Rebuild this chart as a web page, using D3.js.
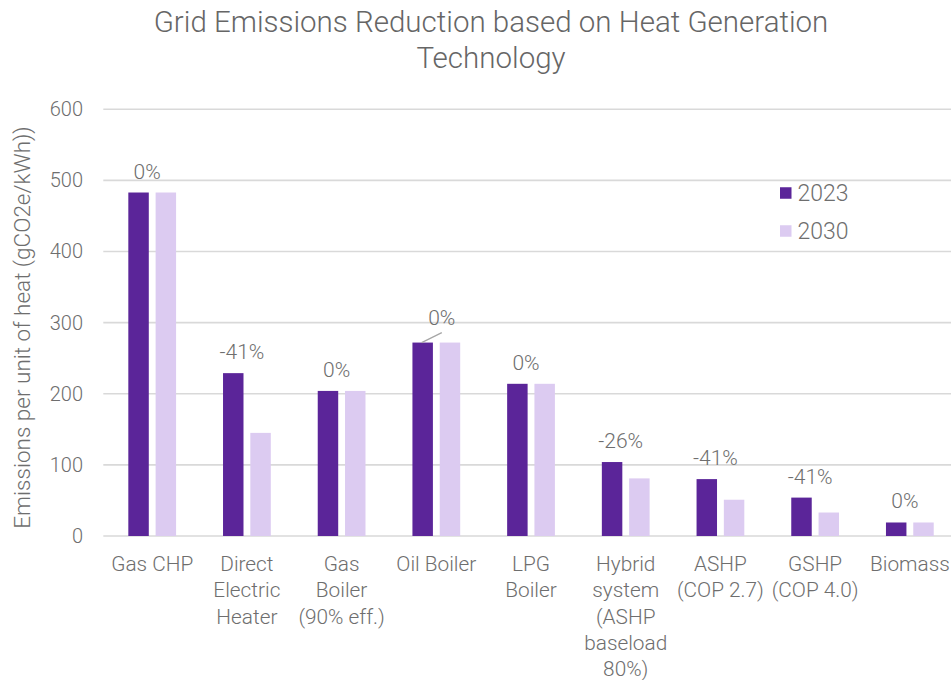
<!DOCTYPE html>
<html>
<head>
<meta charset="utf-8">
<script src="https://cdn.jsdelivr.net/npm/d3@7"></script>
<style>
  body { margin: 0; background: #fff; }
  text { font-family: Roboto, "Liberation Sans", Arial, sans-serif; font-weight: 300; }
</style>
</head>
<body>
<svg id="chart" width="951" height="680"></svg>
<script>
// Heat generation technologies and grid emissions per unit of heat (gCO2e/kWh)
const categories = [
  "Gas CHP", "Direct Electric Heater", "Gas Boiler (90% eff.)", "Oil Boiler", "LPG Boiler",
  "Hybrid system (ASHP baseload 80%)", "ASHP (COP 2.7)", "GSHP (COP 4.0)", "Biomass"
];
const categoryLines = [
  ["Gas CHP"], ["Direct", "Electric", "Heater"], ["Gas", "Boiler", "(90% eff.)"], ["Oil Boiler"],
  ["LPG", "Boiler"], ["Hybrid", "system", "(ASHP", "baseload", "80%)"], ["ASHP", "(COP 2.7)"],
  ["GSHP", "(COP 4.0)"], ["Biomass"]
];
const series = ["2023", "2030"];
const values2023 = [483, 229, 204, 272, 214, 104, 80, 54, 19];
const values2030 = [483, 145, 204, 272, 214, 81, 51, 33, 19];
const changeLabels = ["0%", "-41%", "0%", "0%", "0%", "-26%", "-41%", "-41%", "0%"];
const calloutCategories = ["Oil Boiler"];   // labels pulled up with a leader line
const yTicks = [0, 100, 200, 300, 400, 500, 600];
const chartTitle = ["Grid Emissions Reduction based on Heat Generation", "Technology"];
const yTitle = "Emissions per unit of heat (gCO2e/kWh))";

const colors = { "2023": "#5b2599", "2030": "#dccbf1" };
const textColor = "#6e6e6e";
const gridColor = "#d9d9d9";

const svg = d3.select("#chart");
const W = 951;

const y = d3.scaleLinear().domain([0, 600]).range([536, 109.3]);
const x0 = d3.scaleBand().domain(categories).range([104.85, 957.2]).padding(0);
const x1 = d3.scaleBand().domain(series).range([0, x0.bandwidth()])
  .paddingInner(0.25).paddingOuter(0.86);

const rows = categories.map((c, i) => ({
  category: c, lines: categoryLines[i], label: changeLabels[i],
  values: { "2023": values2023[i], "2030": values2030[i] }
}));

// Title
svg.append("g").selectAll("text").data(chartTitle).join("text")
  .attr("x", 491).attr("y", (d, i) => 32 + i * 36)
  .attr("text-anchor", "middle")
  .attr("font-size", 29.5).attr("fill", "#666")
  .text(d => d);

// Gridlines
svg.append("g").selectAll("line").data(yTicks).join("line")
  .attr("x1", 103.3).attr("x2", W)
  .attr("y1", d => y(d)).attr("y2", d => y(d))
  .attr("stroke", gridColor).attr("stroke-width", 1.6);

// Y axis tick labels
const yAxis = d3.axisLeft(y).tickValues(yTicks).tickSize(0).tickPadding(0);
const gy = svg.append("g").attr("transform", "translate(83,0)").call(yAxis);
gy.select(".domain").remove();
gy.selectAll("text")
  .attr("font-size", 20).attr("fill", textColor)
  .attr("font-family", null);

// Y axis title
svg.append("text")
  .attr("transform", "translate(30,327.5) rotate(-90)")
  .attr("text-anchor", "middle")
  .attr("font-size", 22.5).attr("fill", textColor)
  .text(yTitle);

// Bars
const groups = svg.append("g").selectAll("g").data(rows).join("g")
  .attr("transform", d => `translate(${x0(d.category)},0)`);

groups.selectAll("rect").data(d => series.map(s => ({ s, v: d.values[s] }))).join("rect")
  .attr("x", d => x1(d.s))
  .attr("width", x1.bandwidth())
  .attr("y", d => y(d.v))
  .attr("height", d => y(0) - y(d.v))
  .attr("fill", d => colors[d.s]);

// Change labels above each pair
const center = d => x0(d.category) + x0.bandwidth() / 2;
const topOf = d => y(Math.max(d.values["2023"], d.values["2030"]));

const labels = svg.append("g");
rows.forEach(d => {
  const callout = calloutCategories.includes(d.category);
  const lx = callout ? center(d) + 5.5 : center(d) - 5;
  const ly = callout ? topOf(d) - 18 : topOf(d) - 14;
  labels.append("text")
    .attr("x", lx).attr("y", ly)
    .attr("text-anchor", "middle")
    .attr("font-size", 21).attr("fill", textColor)
    .text(d.label);
  if (callout) {
    const bx = x0(d.category) + x1("2023") + x1.bandwidth() * 0.45;
    labels.append("line")
      .attr("x1", bx).attr("y1", y(d.values["2023"]))
      .attr("x2", lx).attr("y2", ly + 8)
      .attr("stroke", "#a6a6a6").attr("stroke-width", 1.3);
  }
});

// Category labels (wrapped)
const cat = svg.append("g").selectAll("text").data(rows).join("text")
  .attr("text-anchor", "middle")
  .attr("font-size", 20.8).attr("fill", textColor);
cat.selectAll("tspan").data(d => d.lines.map(l => ({ l, x: center(d) }))).join("tspan")
  .attr("x", d => d.x)
  .attr("y", (d, i) => 571 + i * 26.3)
  .text(d => d.l);

// Legend
const legend = svg.append("g").selectAll("g").data(series).join("g")
  .attr("transform", (d, i) => `translate(780,${193 + i * 38})`);
legend.append("rect")
  .attr("x", 0).attr("y", -5.75).attr("width", 11.5).attr("height", 11.5)
  .attr("fill", d => colors[d]);
legend.append("text")
  .attr("x", 17.5).attr("y", 0).attr("dy", "0.36em")
  .attr("font-size", 23).attr("fill", textColor)
  .text(d => d);
</script>
</body>
</html>
